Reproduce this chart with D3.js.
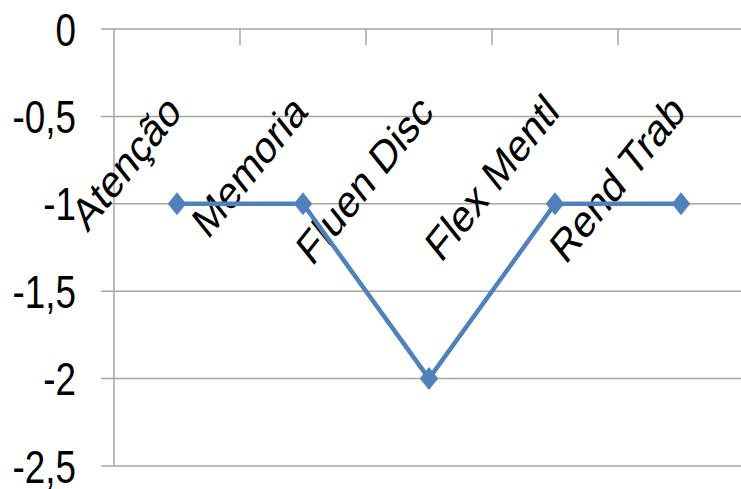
<html>
<head>
  <meta charset="utf-8" />
<script src="https://d3js.org/d3.v7.min.js"></script>
</head>
<style>
  body { margin: 0; background: #fff; }
  svg { display: block; }
  text { font-family: "Liberation Sans", Arial, sans-serif; fill: #000; }
</style>
<body>
<svg class="main" width="741" height="489"></svg>
<script>

const categories = ["Atenção", "Memoria", "Fluen Disc", "Flex Mentl", "Rend Trab"]
const values = [-1, -1, -2, -1, -1]
const yTicks = [0, -0.5, -1, -1.5, -2, -2.5]
const yTickLabels = ["0", "-0,5", "-1", "-1,5", "-2", "-2,5"]

const squeeze = 0.8   // the picture is narrowed horizontally
const grid = "#a6a6a6"
const blue = "#4f81bd"

const svg = d3.select("svg")

const x = d3.scaleBand().domain(categories).range([114, 744])
const y = d3.scaleLinear().domain([-2.5, 0]).range([466, 29])

// horizontal gridlines with outward ticks
svg.append("g")
  .selectAll("line")
  .data(yTicks)
  .enter()
  .append("line")
  .attr("x1", 101)
  .attr("x2", 741)
  .attr("y1", d => y(d))
  .attr("y2", d => y(d))
  .style("stroke", grid)
  .style("stroke-width", 1.5)

// vertical axis line
svg.append("line")
  .attr("x1", x.range()[0]).attr("x2", x.range()[0])
  .attr("y1", y(0)).attr("y2", y(-2.5))
  .style("stroke", grid)
  .style("stroke-width", 1.5)

// category ticks hanging from the zero line
svg.append("g")
  .selectAll("line")
  .data(categories.slice(1))
  .enter()
  .append("line")
  .attr("x1", d => x(d)).attr("x2", d => x(d))
  .attr("y1", y(0)).attr("y2", y(0) + 16)
  .style("stroke", grid)
  .style("stroke-width", 1.5)

// y labels
svg.append("g")
  .selectAll("text")
  .data(yTicks)
  .enter()
  .append("text")
  .attr("transform", d => `translate(76,${y(d)}) scale(${squeeze},1)`)
  .attr("dy", "0.36em")
  .attr("text-anchor", "end")
  .style("font-size", "46px")
  .text((d, i) => yTickLabels[i])

// rotated category labels
svg.append("g")
  .selectAll("text")
  .data(categories)
  .enter()
  .append("text")
  .attr("transform", d => `translate(${x(d) + x.bandwidth() / 2 + 6},114) scale(${squeeze},1) rotate(-45)`)
  .attr("text-anchor", "end")
  .style("font-size", "46px")
  .text(d => d)

// line
const line = d3.line()
  .x((d, i) => x(categories[i]) + x.bandwidth() / 2)
  .y(d => y(d))

svg.append("path")
  .datum(values)
  .attr("d", line)
  .style("fill", "none")
  .style("stroke", blue)
  .style("stroke-width", 4.5)
  .style("stroke-linejoin", "round")

// diamond markers
const diamond = {
  draw(ctx, size) {
    const r = Math.sqrt(size / 2)
    ctx.moveTo(0, -r)
    ctx.lineTo(r, 0)
    ctx.lineTo(0, r)
    ctx.lineTo(-r, 0)
    ctx.closePath()
  }
}

svg.append("g")
  .selectAll("path")
  .data(values)
  .enter()
  .append("path")
  .attr("d", d3.symbol().type(diamond).size(264))
  .attr("transform", (d, i) => `translate(${x(categories[i]) + x.bandwidth() / 2},${y(d)}) scale(${squeeze},1)`)
  .style("fill", blue)

</script>
</body>
</html>
